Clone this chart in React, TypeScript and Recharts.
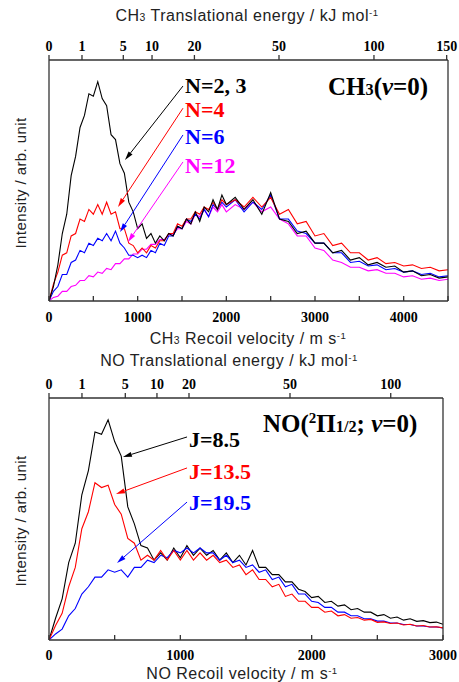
import React from 'react';
import { LineChart, Line, XAxis, YAxis, ReferenceLine } from 'recharts';

// ---- CH3 panel (top) ----
const CH3_V = [
  0, 50, 100, 150, 200, 250, 300, 350, 400, 450, 500, 550, 600, 650, 700, 750, 800, 850, 900, 950,
  1000, 1050, 1100, 1150, 1200, 1250, 1300, 1350, 1400, 1450, 1500, 1550, 1600, 1650, 1700, 1750, 1800, 1850, 1900, 1950,
  2000, 2100, 2200, 2300, 2400, 2500, 2600, 2700, 2800, 2900, 3000, 3100, 3200, 3300, 3400, 3500,
  3600, 3700, 3800, 3900, 4000, 4100, 4200, 4300, 4400, 4500,
];
const CH3_N23 = [
  0, 0.06, 0.15, 0.28, 0.36, 0.52, 0.6, 0.72, 0.77, 0.86, 0.85, 0.91, 0.84, 0.81, 0.69, 0.67, 0.57, 0.53, 0.41, 0.37,
  0.3, 0.32, 0.26, 0.28, 0.24, 0.27, 0.25, 0.28, 0.27, 0.31, 0.3, 0.34, 0.32, 0.37, 0.33, 0.39, 0.37, 0.42, 0.38, 0.44,
  0.4, 0.43, 0.38, 0.42, 0.36, 0.45, 0.34, 0.33, 0.28, 0.29, 0.24, 0.24, 0.2, 0.21, 0.17, 0.18,
  0.15, 0.16, 0.14, 0.145, 0.12, 0.125, 0.105, 0.11, 0.095, 0.1,
];
const CH3_N4 = [
  0, 0.07, 0.12, 0.19, 0.2, 0.27, 0.28, 0.34, 0.33, 0.38, 0.36, 0.4, 0.36, 0.41, 0.36, 0.37, 0.3, 0.3, 0.24, 0.23,
  0.2, 0.22, 0.2, 0.23, 0.22, 0.25, 0.25, 0.28, 0.28, 0.32, 0.31, 0.34, 0.34, 0.37, 0.36, 0.39, 0.38, 0.41, 0.38, 0.42,
  0.4, 0.42, 0.39, 0.43, 0.39, 0.43, 0.36, 0.38, 0.32, 0.33, 0.27, 0.28, 0.23, 0.24, 0.2, 0.2,
  0.17, 0.18, 0.155, 0.16, 0.145, 0.15, 0.135, 0.14, 0.125, 0.13,
];
const CH3_N6 = [
  0, 0.04, 0.06, 0.11, 0.11, 0.16, 0.17, 0.21, 0.2, 0.24, 0.23, 0.26, 0.25, 0.28, 0.25, 0.29, 0.24, 0.22, 0.19, 0.19,
  0.18, 0.19, 0.18, 0.21, 0.2, 0.24, 0.23, 0.27, 0.27, 0.31, 0.3, 0.34, 0.33, 0.36, 0.34, 0.38, 0.35, 0.4, 0.38, 0.41,
  0.39, 0.42, 0.37, 0.41, 0.38, 0.44, 0.34, 0.34, 0.29, 0.28, 0.24, 0.24, 0.2, 0.2, 0.16, 0.165,
  0.145, 0.15, 0.13, 0.135, 0.12, 0.125, 0.11, 0.115, 0.1, 0.105,
];
const CH3_N12 = [
  0, 0.015, 0.02, 0.04, 0.04, 0.06, 0.065, 0.085, 0.085, 0.105, 0.1, 0.12, 0.115, 0.135, 0.13, 0.155, 0.155, 0.175, 0.175, 0.195,
  0.195, 0.215, 0.215, 0.235, 0.235, 0.255, 0.255, 0.275, 0.275, 0.3, 0.3, 0.33, 0.32, 0.36, 0.35, 0.38, 0.35, 0.39, 0.37, 0.4,
  0.37, 0.4, 0.38, 0.41, 0.37, 0.39, 0.34, 0.32, 0.27, 0.27, 0.22, 0.21, 0.17, 0.16, 0.14, 0.14,
  0.125, 0.13, 0.115, 0.115, 0.1, 0.105, 0.09, 0.095, 0.085, 0.09,
];
const CH3_V_TICKS = [0, 500, 1000, 1500, 2000, 2500, 3000, 3500, 4000, 4500];
// energy tick labels and the recoil velocity they sit at
const CH3_E_LABELS = ['0', '1', '5', '10', '20', '50', '100', '150'];
const CH3_E_POS = [0, 372, 838, 1162, 1640, 2594, 3665, 4485];

// ---- NO panel (bottom) ----
const NO_V = [
  0, 50, 100, 150, 200, 250, 300, 350, 400, 450, 500, 550, 600, 650, 700, 750, 800, 850, 900, 950,
  1000, 1050, 1100, 1150, 1200, 1250, 1300, 1350, 1400, 1450, 1500, 1550, 1600, 1650, 1700, 1750, 1800, 1850, 1900, 1950,
  2000, 2050, 2100, 2150, 2200, 2250, 2300, 2350, 2400, 2450, 2500, 2550, 2600, 2650, 2700, 2750, 2800, 2850, 2900, 2950, 3000,
];
const NO_J85 = [
  0, 0.09, 0.17, 0.32, 0.4, 0.6, 0.7, 0.86, 0.85, 0.91, 0.82, 0.76, 0.55, 0.48, 0.39, 0.38, 0.33, 0.36, 0.33, 0.38,
  0.34, 0.39, 0.35, 0.38, 0.35, 0.37, 0.33, 0.36, 0.32, 0.35, 0.31, 0.37, 0.3, 0.3, 0.27, 0.27, 0.24, 0.24, 0.21, 0.2,
  0.175, 0.18, 0.155, 0.16, 0.14, 0.145, 0.125, 0.13, 0.115, 0.115, 0.1, 0.105, 0.09, 0.095, 0.082, 0.088, 0.077, 0.08, 0.072, 0.074, 0.065,
];
const NO_J135 = [
  0, 0.06, 0.11, 0.22, 0.3, 0.46, 0.53, 0.65, 0.63, 0.64, 0.56, 0.52, 0.42, 0.4, 0.33, 0.35, 0.33, 0.37, 0.33, 0.37,
  0.33, 0.37, 0.33, 0.36, 0.33, 0.35, 0.32, 0.33, 0.3, 0.31, 0.27, 0.29, 0.25, 0.25, 0.22, 0.23, 0.18, 0.19, 0.16, 0.16,
  0.135, 0.135, 0.115, 0.12, 0.1, 0.105, 0.09, 0.093, 0.082, 0.085, 0.073, 0.075, 0.068, 0.07, 0.062, 0.065, 0.058, 0.06, 0.054, 0.055, 0.05,
];
const NO_J195 = [
  0, 0.025, 0.045, 0.1, 0.13, 0.19, 0.22, 0.26, 0.26, 0.29, 0.28, 0.29, 0.26, 0.3, 0.3, 0.33, 0.32, 0.35, 0.34, 0.37,
  0.36, 0.38, 0.36, 0.38, 0.36, 0.36, 0.33, 0.35, 0.32, 0.33, 0.3, 0.31, 0.28, 0.29, 0.25, 0.26, 0.22, 0.23, 0.19, 0.19,
  0.16, 0.155, 0.135, 0.135, 0.115, 0.115, 0.1, 0.1, 0.088, 0.088, 0.078, 0.078, 0.07, 0.07, 0.064, 0.064, 0.058, 0.058, 0.054, 0.054, 0.05,
];
const NO_V_TICKS = [0, 500, 1000, 1500, 2000, 2500, 3000];
const NO_E_LABELS = ['0', '1', '5', '10', '20', '50', '100'];
const NO_E_POS = [0, 251, 581, 822, 1066, 1835, 2602];

const ch3Data = CH3_V.map((v, i) => ({ v, n23: CH3_N23[i], n4: CH3_N4[i], n6: CH3_N6[i], n12: CH3_N12[i] }));
const noData = NO_V.map((v, i) => ({ v, j85: NO_J85[i], j135: NO_J135[i], j195: NO_J195[i] }));

const AXIS = '#333';
const TICK_FONT = { fill: '#000', fontSize: 14, fontWeight: 'bold', fontFamily: '"Liberation Serif", "Times New Roman", serif' };
const SANS = '"Liberation Sans", Arial, sans-serif';
const SERIF = '"Liberation Serif", "Times New Roman", serif';

// arrow shape for ReferenceLine segments
const arrow = (color: string) => (props: any) => {
  const { x1, y1, x2, y2 } = props;
  const ang = Math.atan2(y2 - y1, x2 - x1);
  const len = 9;
  const half = 2.5;
  const bx = x2 - len * Math.cos(ang);
  const by = y2 - len * Math.sin(ang);
  const px = -Math.sin(ang) * half;
  const py = Math.cos(ang) * half;
  return (
    <g>
      <line x1={x1} y1={y1} x2={bx} y2={by} stroke={color} strokeWidth={1} />
      <polygon points={`${x2},${y2} ${bx + px},${by + py} ${bx - px},${by - py}`} fill={color} />
    </g>
  );
};

const Txt: React.FC<{ x: number; y: number; center?: boolean; style?: React.CSSProperties; children: React.ReactNode }> = ({ x, y, center, style, children }) => (
  <div
    style={{
      position: 'absolute',
      left: x,
      top: y,
      transform: center ? 'translate(-50%, -50%)' : 'translateY(-50%)',
      whiteSpace: 'nowrap',
      lineHeight: 1,
      ...style,
    }}
  >
    {children}
  </div>
);

const sub = { fontSize: '0.65em' } as React.CSSProperties;
const sup = { fontSize: '0.6em', verticalAlign: '0.6em' } as React.CSSProperties;

const YLabel: React.FC<{ y: number }> = ({ y }) => (
  <div
    style={{
      position: 'absolute',
      left: 20,
      top: y,
      transform: 'translate(-50%, -50%) rotate(-90deg)',
      whiteSpace: 'nowrap',
      fontFamily: SANS,
      fontSize: 15,
      letterSpacing: 0.4,
      lineHeight: 1,
      color: '#222',
    }}
  >
    Intensity / arb. unit
  </div>
);

const label = (big: number, color: string): React.CSSProperties => ({
  fontFamily: SERIF,
  fontWeight: 'bold',
  fontSize: big,
  color,
});

const titleStyle: React.CSSProperties = { fontFamily: SANS, fontSize: 16, letterSpacing: 0.5, color: '#222' };

export default function App() {
  return (
    <div style={{ position: 'absolute', left: 0, top: 0, width: 459, height: 682, background: '#fff', overflow: 'hidden' }}>
      {/* top panel */}
      <div style={{ position: 'absolute', left: 0, top: 0 }}>
        <LineChart width={459} height={345} data={ch3Data} margin={{ top: 59, right: 10, bottom: 43, left: 48 }}>
          <XAxis
            xAxisId="bottom"
            dataKey="v"
            type="number"
            domain={[0, 4500]}
            ticks={CH3_V_TICKS}
            interval={0}
            height={1}
            tickFormatter={(v: number) => (v % 1000 === 0 ? String(v) : '')}
            tick={TICK_FONT}
            tickSize={-5}
            tickMargin={16}
            stroke={AXIS}
            strokeWidth={1.3}
            allowDataOverflow
          />
          <XAxis
            xAxisId="top"
            orientation="top"
            dataKey="v"
            type="number"
            domain={[0, 4500]}
            ticks={CH3_E_POS}
            interval={0}
            height={1}
            tickFormatter={(v: number) => CH3_E_LABELS[CH3_E_POS.indexOf(v)]}
            tick={TICK_FONT}
            tickSize={5}
            tickMargin={4}
            stroke={AXIS}
            strokeWidth={1.3}
            allowDataOverflow
          />
          <YAxis yAxisId="left" domain={[0, 1]} width={1} tick={false} tickLine={false} stroke={AXIS} strokeWidth={1.3} allowDataOverflow />
          <YAxis yAxisId="right" orientation="right" domain={[0, 1]} width={1} tick={false} tickLine={false} stroke={AXIS} strokeWidth={1.3} />
          <Line xAxisId="top" yAxisId="left" dataKey="n12" stroke="#ff00ff" strokeWidth={1.1} dot={false} isAnimationActive={false} />
          <Line xAxisId="bottom" yAxisId="left" dataKey="n6" stroke="#0000ff" strokeWidth={1.1} dot={false} isAnimationActive={false} />
          <Line xAxisId="bottom" yAxisId="left" dataKey="n4" stroke="#ff0000" strokeWidth={1.1} dot={false} isAnimationActive={false} />
          <Line xAxisId="bottom" yAxisId="left" dataKey="n23" stroke="#000000" strokeWidth={1.1} dot={false} isAnimationActive={false} />
          <ReferenceLine xAxisId="bottom" yAxisId="left" ifOverflow="visible" segment={[{ x: 1511, y: 0.892 }, { x: 857, y: 0.585 }]} shape={arrow('#000')} />
          <ReferenceLine xAxisId="bottom" yAxisId="left" ifOverflow="visible" segment={[{ x: 1511, y: 0.8 }, { x: 778, y: 0.39 }]} shape={arrow('#ff0000')} />
          <ReferenceLine xAxisId="bottom" yAxisId="left" ifOverflow="visible" segment={[{ x: 1511, y: 0.689 }, { x: 801, y: 0.286 }]} shape={arrow('#0000ff')} />
          <ReferenceLine xAxisId="bottom" yAxisId="left" ifOverflow="visible" segment={[{ x: 1511, y: 0.577 }, { x: 891, y: 0.245 }]} shape={arrow('#ff00ff')} />
        </LineChart>
      </div>

      {/* bottom panel */}
      <div style={{ position: 'absolute', left: 0, top: 345 }}>
        <LineChart width={459} height={337} data={noData} margin={{ top: 52, right: 15, bottom: 41, left: 48 }}>
          <XAxis
            xAxisId="bottom"
            dataKey="v"
            type="number"
            domain={[0, 3000]}
            ticks={NO_V_TICKS}
            interval={0}
            height={1}
            tickFormatter={(v: number) => (v % 1000 === 0 ? String(v) : '')}
            tick={TICK_FONT}
            tickSize={-5}
            tickMargin={15}
            stroke={AXIS}
            strokeWidth={1.3}
            allowDataOverflow
          />
          <XAxis
            xAxisId="top"
            orientation="top"
            dataKey="v"
            type="number"
            domain={[0, 3000]}
            ticks={NO_E_POS}
            interval={0}
            height={1}
            tickFormatter={(v: number) => NO_E_LABELS[NO_E_POS.indexOf(v)]}
            tick={TICK_FONT}
            tickSize={5}
            tickMargin={4}
            stroke={AXIS}
            strokeWidth={1.3}
            allowDataOverflow
          />
          <YAxis yAxisId="left" domain={[0, 1]} width={1} tick={false} tickLine={false} stroke={AXIS} strokeWidth={1.3} allowDataOverflow />
          <YAxis yAxisId="right" orientation="right" domain={[0, 1]} width={1} tick={false} tickLine={false} stroke={AXIS} strokeWidth={1.3} />
          <Line xAxisId="bottom" yAxisId="left" dataKey="j85" stroke="#000000" strokeWidth={1.1} dot={false} isAnimationActive={false} />
          <Line xAxisId="top" yAxisId="left" dataKey="j195" stroke="#0000ff" strokeWidth={1.1} dot={false} isAnimationActive={false} />
          <Line xAxisId="bottom" yAxisId="left" dataKey="j135" stroke="#ff0000" strokeWidth={1.1} dot={false} isAnimationActive={false} />
          <ReferenceLine xAxisId="bottom" yAxisId="left" ifOverflow="visible" segment={[{ x: 1051, y: 0.839 }, { x: 563, y: 0.756 }]} shape={arrow('#000')} />
          <ReferenceLine xAxisId="bottom" yAxisId="left" ifOverflow="visible" segment={[{ x: 1051, y: 0.711 }, { x: 510, y: 0.603 }]} shape={arrow('#ff0000')} />
          <ReferenceLine xAxisId="bottom" yAxisId="left" ifOverflow="visible" segment={[{ x: 1051, y: 0.57 }, { x: 518, y: 0.318 }]} shape={arrow('#0000ff')} />
        </LineChart>
      </div>

      {/* axis titles */}
      <Txt x={247} y={16} center style={titleStyle}>
        CH<span style={sub}>3</span> Translational energy / kJ mol<span style={sup}>-1</span>
      </Txt>
      <Txt x={248} y={339} center style={titleStyle}>
        CH<span style={sub}>3</span> Recoil velocity / m s<span style={sup}>-1</span>
      </Txt>
      <Txt x={229} y={361} center style={titleStyle}>
        NO Translational energy / kJ mol<span style={sup}>-1</span>
      </Txt>
      <Txt x={242} y={674} center style={titleStyle}>
        NO Recoil velocity / m s<span style={sup}>-1</span>
      </Txt>
      <YLabel y={183} />
      <YLabel y={521} />

      {/* annotations */}
      <Txt x={185} y={86} style={label(22, '#000')}>N=2, 3</Txt>
      <Txt x={185} y={110} style={label(22, '#ff0000')}>N=4</Txt>
      <Txt x={185} y={137} style={label(22, '#0000ff')}>N=6</Txt>
      <Txt x={185} y={166} style={label(22, '#ff00ff')}>N=12</Txt>
      <Txt x={328} y={86} style={label(25, '#000')}>
        CH<span style={sub}>3</span>(<i>v</i>=0)
      </Txt>
      <Txt x={189} y={440} style={label(22, '#000')}>J=8.5</Txt>
      <Txt x={189} y={472} style={label(22, '#ff0000')}>J=13.5</Txt>
      <Txt x={189} y={503} style={label(22, '#0000ff')}>J=19.5</Txt>
      <Txt x={263} y={423} style={label(25, '#000')}>
        NO(<span style={sup}>2</span>Π<span style={sub}>1/2</span>; <i>v</i>=0)
      </Txt>
    </div>
  );
}
